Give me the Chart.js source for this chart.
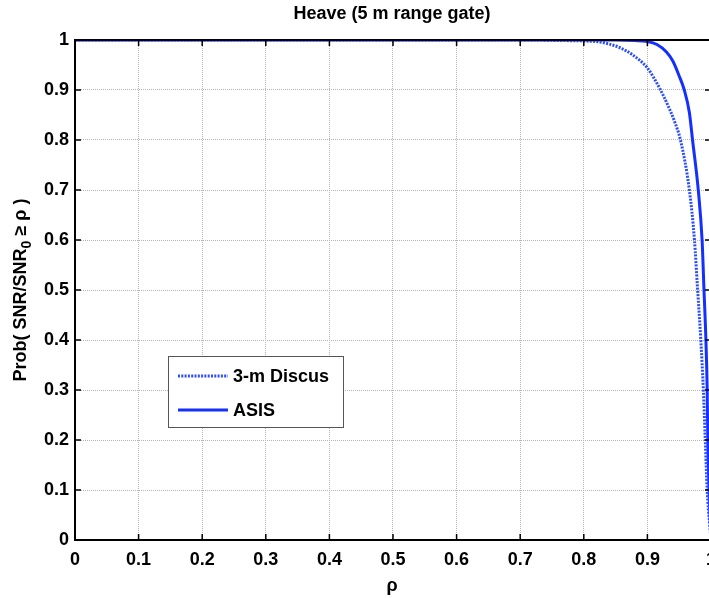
<!DOCTYPE html>
<html>
<head>
<meta charset="utf-8">
<script src="https://cdn.jsdelivr.net/npm/chart.js@4/dist/chart.umd.min.js"></script>
<style>
  html, body { margin: 0; padding: 0; background: #fff; overflow: hidden; width: 709px; height: 598px; }
  canvas { display: block; }
</style>
</head>
<body>
<canvas id="c" width="725" height="598"></canvas>
<script>
// ---- data ----
const xTicks = [0, 0.1, 0.2, 0.3, 0.4, 0.5, 0.6, 0.7, 0.8, 0.9, 1];
const yTicks = [0, 0.1, 0.2, 0.3, 0.4, 0.5, 0.6, 0.7, 0.8, 0.9, 1];

const rhoDiscus  = [0, 0.72, 0.76, 0.80, 0.825, 0.856, 0.877, 0.90, 0.919, 0.932, 0.943, 0.952, 0.966, 0.974, 0.979, 0.984, 0.988, 0.991, 0.994, 0.998, 1.0];
const probDiscus = [1, 1.0,  0.999, 0.998, 0.996, 0.985, 0.970, 0.944, 0.904, 0.870, 0.836, 0.80, 0.70, 0.60, 0.50, 0.40, 0.30, 0.20, 0.10, 0.03, 0.0];

const rhoAsis  = [0, 0.85, 0.88, 0.90, 0.915, 0.930, 0.940, 0.950, 0.958, 0.966, 0.971, 0.980, 0.986, 0.989, 0.992, 0.994, 0.995, 0.997, 1.0];
const probAsis = [1, 1.0,  0.999, 0.997, 0.991, 0.976, 0.958, 0.928, 0.90, 0.855, 0.80, 0.70, 0.60, 0.50, 0.40, 0.30, 0.20, 0.10, 0.0];

const seriesNames = ['3-m Discus', 'ASIS'];
const titleText = 'Heave (5 m range gate)';
const yTitleParts = ['Prob( SNR/SNR', '0', ' \u2265 \u03c1 )'];
const xTitle = '\u03c1';

const toPts = (xs, ys) => xs.map((x, i) => ({ x: x, y: ys[i] }));
const FONT = 'Liberation Sans, Arial, sans-serif';
const FS = 18;

const decor = {
  id: 'decor',
  afterDraw(chart) {
    const ctx = chart.ctx;
    const a = chart.chartArea;
    const xs = chart.scales.x, ys = chart.scales.y;
    ctx.save();
    // frame
    ctx.strokeStyle = '#000';
    ctx.lineWidth = 2;
    ctx.strokeRect(a.left, a.top, a.right - a.left, a.bottom - a.top);
    // inward ticks
    ctx.lineWidth = 1.5;
    ctx.beginPath();
    xTicks.forEach(v => {
      const px = xs.getPixelForValue(v);
      ctx.moveTo(px, a.bottom); ctx.lineTo(px, a.bottom - 6);
      ctx.moveTo(px, a.top); ctx.lineTo(px, a.top + 6);
    });
    yTicks.forEach(v => {
      const py = ys.getPixelForValue(v);
      ctx.moveTo(a.left, py); ctx.lineTo(a.left + 6, py);
      ctx.moveTo(a.right, py); ctx.lineTo(a.right - 6, py);
    });
    ctx.stroke();
    // title
    ctx.fillStyle = '#000';
    ctx.font = 'bold ' + FS + 'px ' + FONT;
    ctx.textAlign = 'center';
    ctx.textBaseline = 'middle';
    ctx.fillText(titleText, 392, 14);
    // x title
    ctx.fillText(xTitle, 392, 586);
    // y title with subscript
    ctx.save();
    ctx.translate(21, 290);
    ctx.rotate(-Math.PI / 2);
    ctx.textAlign = 'left';
    ctx.textBaseline = 'middle';
    const mainFont = 'bold ' + FS + 'px ' + FONT;
    const subFont = 'bold ' + Math.round(FS * 0.75) + 'px ' + FONT;
    ctx.font = mainFont;
    const w0 = ctx.measureText(yTitleParts[0]).width;
    const w2 = ctx.measureText(yTitleParts[2]).width;
    ctx.font = subFont;
    const w1 = ctx.measureText(yTitleParts[1]).width;
    let px = -(w0 + w1 + w2) / 2;
    ctx.font = mainFont;
    ctx.fillText(yTitleParts[0], px, 0); px += w0;
    ctx.font = subFont;
    ctx.fillText(yTitleParts[1], px, 6); px += w1;
    ctx.font = mainFont;
    ctx.fillText(yTitleParts[2], px, 0);
    ctx.restore();
    // legend
    const lx = 168, ly = 356, lw = 175, lh = 71;
    ctx.fillStyle = '#fff';
    ctx.fillRect(lx, ly, lw, lh);
    ctx.strokeStyle = '#555';
    ctx.lineWidth = 1;
    ctx.strokeRect(lx + 0.5, ly + 0.5, lw, lh);
    const ds = chart.data.datasets;
    [376, 410].forEach((yy, i) => {
      ctx.strokeStyle = ds[i].borderColor;
      ctx.lineWidth = ds[i].borderWidth;
      ctx.setLineDash(ds[i].borderDash || []);
      ctx.beginPath();
      ctx.moveTo(178, yy); ctx.lineTo(228, yy);
      ctx.stroke();
      ctx.setLineDash([]);
      ctx.fillStyle = '#000';
      ctx.textAlign = 'left';
      ctx.font = 'bold ' + FS + 'px ' + FONT;
      ctx.fillText(seriesNames[i], 233, yy + 1);
    });
    ctx.restore();
  }
};

new Chart(document.getElementById('c'), {
  type: 'line',
  data: {
    datasets: [
      { label: seriesNames[0], data: toPts(rhoDiscus, probDiscus), borderColor: '#2a4dff', borderWidth: 3,
        borderDash: [2, 1.3], pointRadius: 0, fill: false, cubicInterpolationMode: 'monotone' },
      { label: seriesNames[1], data: toPts(rhoAsis, probAsis), borderColor: '#1430ff', borderWidth: 3,
        pointRadius: 0, fill: false, cubicInterpolationMode: 'monotone' }
    ]
  },
  options: {
    responsive: false,
    animation: false,
    layout: { padding: { top: 40, right: 0, left: 0, bottom: 0 } },
    plugins: { legend: { display: false }, title: { display: false }, tooltip: { enabled: false } },
    scales: {
      x: {
        type: 'linear', min: 0, max: 1,
        afterBuildTicks: s => { s.ticks = xTicks.map(v => ({ value: v })); },
        afterFit: s => { s.height = 58; },
        ticks: { color: '#000', font: { family: FONT, size: FS, weight: 'bold' }, padding: 9, maxRotation: 0,
                 callback: v => String(+v.toFixed(1)) },
        grid: { color: '#b4b4b4', lineWidth: 1, drawTicks: false },
        border: { display: false, dash: [1, 1] }
      },
      y: {
        type: 'linear', min: 0, max: 1,
        afterBuildTicks: s => { s.ticks = yTicks.map(v => ({ value: v })); },
        afterFit: s => { s.width = 75; },
        ticks: { color: '#000', font: { family: FONT, size: FS, weight: 'bold' }, padding: 6,
                 callback: v => String(+v.toFixed(1)) },
        grid: { color: '#b4b4b4', lineWidth: 1, drawTicks: false },
        border: { display: false, dash: [1, 1] }
      }
    }
  },
  plugins: [decor]
});
</script>
</body>
</html>
